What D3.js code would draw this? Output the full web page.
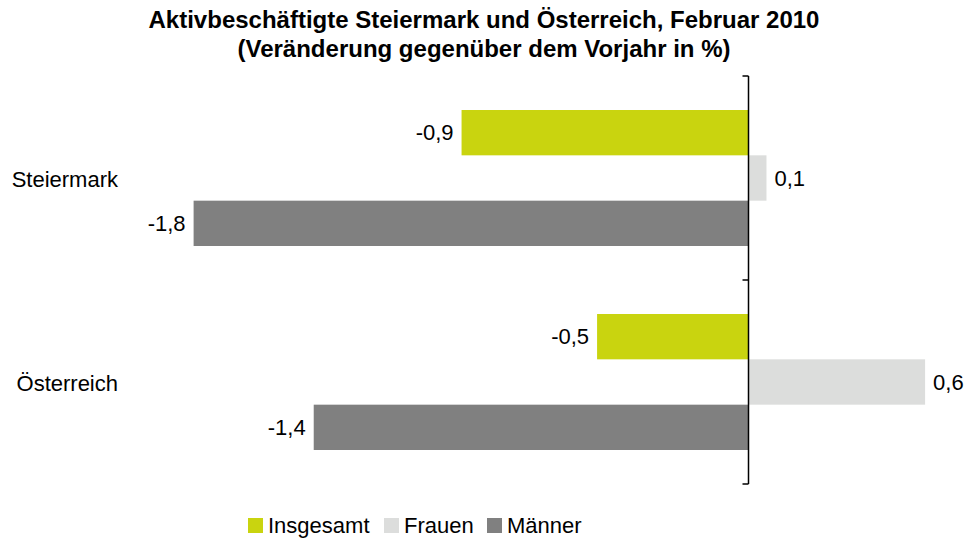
<!DOCTYPE html>
<html><head><meta charset="utf-8">
<script src="https://cdn.jsdelivr.net/npm/d3@7"></script>
<style>
html,body{margin:0;padding:0;background:#fff;}
svg text{font-family:"Liberation Sans",Arial,sans-serif;fill:#000;}
</style></head>
<body><svg id="c" width="968" height="538"></svg>
<script>
const categories = ["Steiermark", "Österreich"];
const seriesNames = ["Insgesamt", "Frauen", "Männer"];
const insgesamt = [-0.93, -0.49];
const frauen = [0.06, 0.575];
const maenner = [-1.80, -1.41];
const colors = ["#C9D40F", "#DCDDDC", "#808080"];
const titleLines = ["Aktivbeschäftigte Steiermark und Österreich, Februar 2010", "(Veränderung gegenüber dem Vorjahr in %)"];

const seriesValues = [insgesamt, frauen, maenner];
const data = categories.map((c, i) => ({cat: c, vals: seriesNames.map((s, j) => ({s, v: seriesValues[j][i], j}))}));

const svg = d3.select("#c");
const x = d3.scaleLinear().domain([-2, 0.5]).range([132, 902]);
const y = d3.scaleBand().domain(categories).range([76, 484]).padding(0);
const yi = d3.scaleBand().domain(seriesNames).range([y.bandwidth()/6, y.bandwidth()*5/6]).padding(0);
const fmt = v => d3.format(".1f")(v).replace(".", ",").replace("−", "-");
const FS = 22;

// title
svg.append("g").selectAll("text").data(titleLines).join("text")
  .attr("x", 484).attr("y", (d, i) => 28 + i * 29)
  .attr("text-anchor", "middle").attr("font-weight", "bold").attr("font-size", 24)
  .text(d => d);

// bars
const g = svg.append("g").selectAll("g").data(data).join("g")
  .attr("transform", d => `translate(0,${y(d.cat)})`);
g.selectAll("rect").data(d => d.vals).join("rect")
  .attr("x", d => x(Math.min(0, d.v)))
  .attr("width", d => Math.abs(x(d.v) - x(0)))
  .attr("y", d => yi(d.s)).attr("height", yi.bandwidth())
  .attr("fill", d => colors[d.j]);
g.selectAll("text").data(d => d.vals).join("text")
  .attr("x", d => d.v < 0 ? x(d.v) - 8 : x(d.v) + 8)
  .attr("y", d => yi(d.s) + yi.bandwidth()/2)
  .attr("dy", "0.35em")
  .attr("text-anchor", d => d.v < 0 ? "end" : "start")
  .attr("font-size", FS)
  .text(d => fmt(d.v));

// axis
const ax = svg.append("g");
const x0 = Math.round(x(0)) + 0.5;
ax.append("line").attr("x1", x0).attr("x2", x0).attr("y1", y.range()[0]).attr("y2", y.range()[1])
  .attr("stroke", "#000").attr("stroke-width", 1.5);
const tickYs = categories.map(c => y(c)).concat([y.range()[1]]);
ax.selectAll("line.t").data(tickYs).join("line").attr("class", "t")
  .attr("x1", x0 - 6).attr("x2", x0).attr("y1", d => d).attr("y2", d => d)
  .attr("stroke", "#000").attr("stroke-width", 1.5);

// category labels
svg.append("g").selectAll("text").data(categories).join("text")
  .attr("x", 118).attr("y", d => y(d) + y.bandwidth()/2 + 1)
  .attr("dy", "0.35em").attr("text-anchor", "end").attr("font-size", FS)
  .text(d => d);

// legend
const legX = [248, 384, 487];
const lg = svg.append("g").selectAll("g").data(seriesNames).join("g")
  .attr("transform", (d, i) => `translate(${legX[i]},518)`);
lg.append("rect").attr("width", 15).attr("height", 15).attr("fill", (d, i) => colors[i]);
lg.append("text").attr("x", 20).attr("y", 15).attr("font-size", FS).text(d => d);
</script></body></html>
